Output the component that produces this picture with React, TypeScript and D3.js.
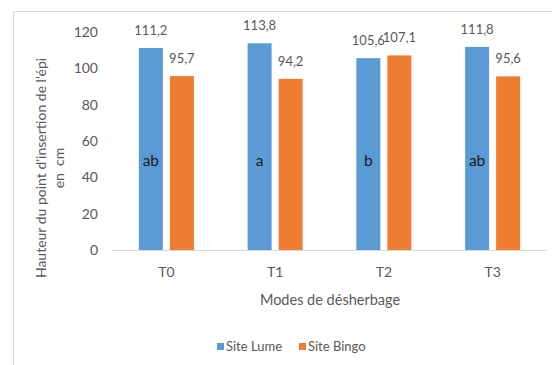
import React from "react";
import * as d3 from "d3";

const categories = ["T0", "T1", "T2", "T3"];
const seriesNames = ["Site Lume", "Site Bingo"];
const siteLume = [111.2, 113.8, 105.6, 111.8];
const siteBingo = [95.7, 94.2, 107.1, 95.6];
const letters = ["ab", "a", "b", "ab"];
const yTicks = [0, 20, 40, 60, 80, 100, 120];
const colors = ["#5B9BD5", "#ED7D31"];

const W = 552;
const H = 365;
const FONT = "Lato, Carlito, Calibri, sans-serif";
const TXT = "#595959";

export default function App() {
  const x0 = d3.scaleBand<string>().domain(categories).range([112, 547]).paddingInner(0.494).paddingOuter(0.247);
  const x1 = d3.scaleBand<string>().domain(seriesNames).range([0, x0.bandwidth()]).paddingInner(0.226);
  const y = d3.scaleLinear().domain([0, 120]).range([250, 32]);
  const series = [siteLume, siteBingo];
  const fmt = (v: number) => v.toFixed(1).replace(".", ",");

  return (
    <svg width={W} height={H} style={{ position: "absolute", left: 0, top: 0, fontFamily: FONT }}>
      <rect x={0} y={0} width={W} height={H} fill="#fff" />
      <line x1={13.5} y1={11} x2={13.5} y2={H} stroke="#D9D9D9" />
      <line x1={13} y1={11.5} x2={W} y2={11.5} stroke="#D9D9D9" />
      {yTicks.map((t) => (
        <text key={t} x={98} y={y(t)} dy="0.35em" textAnchor="end" fontSize={14} fill={TXT}>
          {t}
        </text>
      ))}
      {categories.map((c, i) =>
        series.map((s, j) => {
          const bx = (x0(c) as number) + (x1(seriesNames[j]) as number);
          return (
            <g key={c + j}>
              <rect x={bx} y={y(s[i])} width={x1.bandwidth()} height={y(0) - y(s[i])} fill={colors[j]} />
              <text x={bx + x1.bandwidth() / 2} y={y(s[i]) - 13} textAnchor="middle" fontSize={13} fill={TXT}>
                {fmt(s[i])}
              </text>
            </g>
          );
        })
      )}
      {categories.map((c, i) => (
        <text
          key={"l" + c}
          x={(x0(c) as number) + (x1(seriesNames[0]) as number) + x1.bandwidth() / 2}
          y={166}
          textAnchor="middle"
          fontSize={15.5}
          fill="#1a1a1a"
        >
          {letters[i]}
        </text>
      ))}
      <line x1={112} x2={547} y1={250.5} y2={250.5} stroke="#D9D9D9" />
      {categories.map((c) => (
        <text key={"c" + c} x={(x0(c) as number) + x0.bandwidth() / 2} y={272} dy="0.35em" textAnchor="middle" fontSize={14} fill={TXT}>
          {c}
        </text>
      ))}
      <text x={330} y={300} dy="0.35em" textAnchor="middle" fontSize={14.5} fill={TXT}>
        Modes de désherbage
      </text>
      <g transform="translate(41,168) rotate(-90)">
        <text x={0} y={0} dy="0.35em" textAnchor="middle" fontSize={14} fill={TXT}>
          Hauteur du point d'insertion de l'épi
        </text>
        <text x={0} y={18} dy="0.35em" textAnchor="middle" fontSize={14} fill={TXT} style={{ whiteSpace: "pre" }}>
          {"en  cm"}
        </text>
      </g>
      {seriesNames.map((n, j) => {
        const lx = j === 0 ? 217 : 299;
        return (
          <g key={n}>
            <rect x={lx} y={343} width={7} height={7} fill={colors[j]} />
            <text x={lx + 9} y={346.5} dy="0.35em" fontSize={13} fill={TXT}>
              {n}
            </text>
          </g>
        );
      })}
    </svg>
  );
}
